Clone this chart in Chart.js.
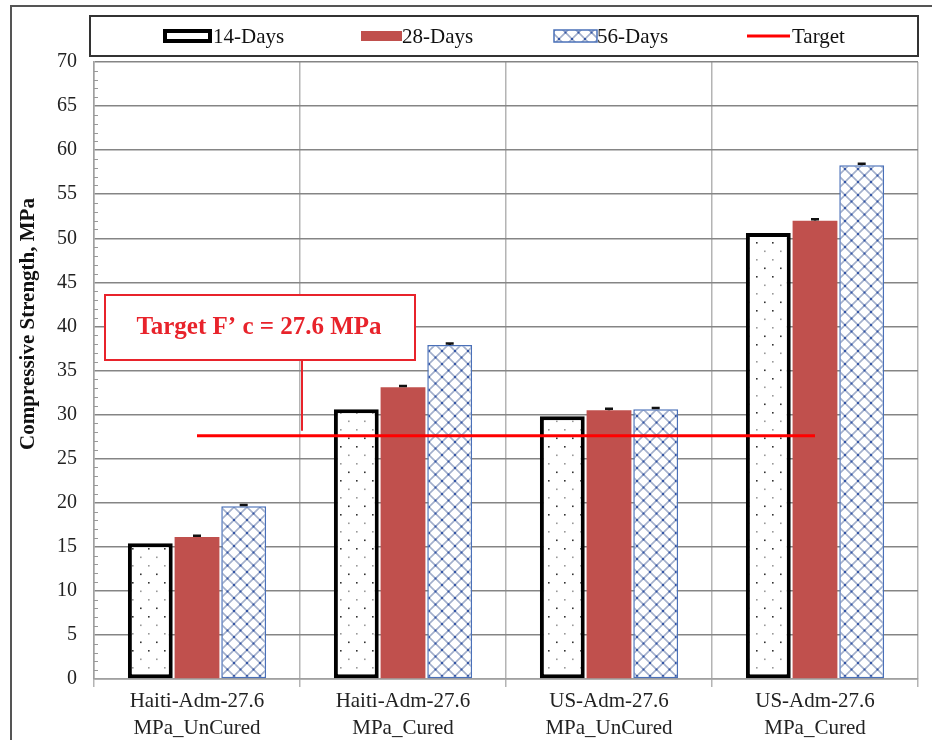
<!DOCTYPE html>
<html>
<head>
<meta charset="utf-8">
<title>Compressive Strength</title>
<script src="https://cdn.jsdelivr.net/npm/chart.js@4.4.1/dist/chart.umd.min.js"></script>
<style>
  html, body { margin: 0; padding: 0; background: #fff; }
  #wrap { width: 932px; height: 740px; }
</style>
</head>
<body>
<div id="wrap"><canvas id="chart" width="932" height="740"></canvas></div>
<script>
// data
const categories = [
    ['Haiti-Adm-27.6', 'MPa_UnCured'],
    ['Haiti-Adm-27.6', 'MPa_Cured'],
    ['US-Adm-27.6', 'MPa_UnCured'],
    ['US-Adm-27.6', 'MPa_Cured']
];
const days14 = [15.4, 30.6, 29.8, 50.6];
const days28 = [16.1, 33.1, 30.5, 52.0];
const days56 = [19.6, 37.9, 30.6, 58.3];
const err28 = [0.15, 0.15, 0.15, 0.15];
const err56 = [0.15, 0.15, 0.15, 0.15];
const target = [27.6, 27.6, 27.6, 27.6];
const yTicks = [0, 5, 10, 15, 20, 25, 30, 35, 40, 45, 50, 55, 60, 65, 70];
const legendNames = ['14-Days', '28-Days', '56-Days', 'Target'];
const noteText = 'Target F\u2019 c = 27.6 MPa';
const yTitle = 'Compressive Strength, MPa';

const SERIF = '"Liberation Serif", "Times New Roman", serif';

// patterns for the 14 and 56 day bars
function dotPattern() {
    const c = document.createElement('canvas');
    c.width = 16; c.height = 34;
    const g = c.getContext('2d');
    g.fillStyle = '#fff';
    g.fillRect(0, 0, 16, 34);
    g.fillStyle = '#333'; g.fillRect(4, 4, 1.6, 1.6);
    g.fillStyle = '#999'; g.fillRect(12, 12.5, 1.6, 1.6);
    g.fillStyle = '#999'; g.fillRect(4, 21, 1.6, 1.6);
    g.fillStyle = '#333'; g.fillRect(12, 29.5, 1.6, 1.6);
    return g.createPattern(c, 'repeat');
}

function crossPattern() {
    const s = 13;
    const c = document.createElement('canvas');
    c.width = s; c.height = s;
    const g = c.getContext('2d');
    g.fillStyle = '#fff';
    g.fillRect(0, 0, s, s);
    g.strokeStyle = '#a3b0cc';
    g.lineWidth = 1.6;
    g.beginPath();
    g.moveTo(0, 0); g.lineTo(s, s);
    g.moveTo(s, 0); g.lineTo(0, s);
    g.stroke();
    g.fillStyle = '#3556a6';
    g.fillRect(s / 2 - 1, s / 2 - 1, 2, 2);
    g.fillRect(0, 0, 1, 1); g.fillRect(s - 1, 0, 1, 1);
    g.fillRect(0, s - 1, 1, 1); g.fillRect(s - 1, s - 1, 1, 1);
    return g.createPattern(c, 'repeat');
}

const dots = dotPattern();
const cross = crossPattern();

// frame, legend, note box, error caps, minor ticks
const decor = {
    id: 'decor',
    beforeDraw(chart) {
        const c = chart.ctx;
        c.save();
        c.fillStyle = '#fff';
        c.fillRect(0, 0, chart.width, chart.height);
        c.strokeStyle = '#555';
        c.lineWidth = 2;
        c.beginPath();
        c.moveTo(11, chart.height);
        c.lineTo(11, 6);
        c.lineTo(chart.width, 6);
        c.stroke();
        c.restore();
    },
    afterDatasetsDraw(chart) {
        const c = chart.ctx;
        const y = chart.scales.y;
        // error caps
        c.save();
        c.strokeStyle = '#111';
        c.lineWidth = 2.5;
        [[1, days28, err28], [2, days56, err56]].forEach(([idx, vals, errs]) => {
            chart.getDatasetMeta(idx).data.forEach((bar, i) => {
                const top = y.getPixelForValue(vals[i] + errs[i]);
                const base = y.getPixelForValue(vals[i]);
                c.beginPath();
                c.moveTo(bar.x, base);
                c.lineTo(bar.x, top);
                c.moveTo(bar.x - 4, top);
                c.lineTo(bar.x + 4, top);
                c.stroke();
            });
        });
        c.restore();
    },
    afterDraw(chart) {
        const c = chart.ctx;
        const area = chart.chartArea;
        const y = chart.scales.y;
        c.save();

        // minor ticks
        c.strokeStyle = '#999';
        c.lineWidth = 1;
        for (let v = 1; v < 70; v++) {
            if (v % 5 === 0) continue;
            const py = Math.round(y.getPixelForValue(v)) + 0.5;
            c.beginPath();
            c.moveTo(area.left, py);
            c.lineTo(area.left + 4, py);
            c.stroke();
        }

        // y title
        c.save();
        c.translate(29, 324);
        c.rotate(-Math.PI / 2);
        c.font = 'bold 21px ' + SERIF;
        c.fillStyle = '#111';
        c.textAlign = 'center';
        c.textBaseline = 'middle';
        c.fillText(yTitle, 0, 0);
        c.restore();

        // legend
        c.fillStyle = '#fff';
        c.fillRect(90, 16, 828, 40);
        c.strokeStyle = '#333';
        c.lineWidth = 2;
        c.strokeRect(90, 16, 828, 40);
        const ly = 36;
        // 14-Days
        c.fillStyle = '#000';
        c.fillRect(163, ly - 7, 49, 14);
        c.fillStyle = '#fff';
        c.fillRect(167, ly - 3, 41, 6);
        // 28-Days
        c.fillStyle = '#c0504d';
        c.fillRect(361, ly - 5, 41, 10);
        // 56-Days
        c.fillStyle = cross;
        c.fillRect(554, ly - 6, 43, 12);
        c.strokeStyle = '#4a70b8';
        c.lineWidth = 1.5;
        c.strokeRect(554, ly - 6, 43, 12);
        // Target
        c.strokeStyle = '#ff0000';
        c.lineWidth = 3;
        c.beginPath();
        c.moveTo(747, ly);
        c.lineTo(790, ly);
        c.stroke();
        c.font = '21px ' + SERIF;
        c.fillStyle = '#111';
        c.textAlign = 'left';
        c.textBaseline = 'middle';
        [213, 402, 597, 792].forEach((x, i) => c.fillText(legendNames[i], x, ly + 1));

        // note box
        const lineY = y.getPixelForValue(target[0]);
        c.strokeStyle = '#e8232b';
        c.lineWidth = 2;
        c.beginPath();
        c.moveTo(302, 360);
        c.lineTo(302, lineY - 5);
        c.stroke();
        c.fillStyle = '#fff';
        c.fillRect(105, 295, 310, 65);
        c.strokeRect(105, 295, 310, 65);
        c.font = 'bold 25px ' + SERIF;
        c.fillStyle = '#e8232b';
        c.textAlign = 'center';
        c.fillText(noteText, 259, 328);

        c.restore();
    }
};

const ctx = document.getElementById('chart').getContext('2d');
const myChart = new Chart(ctx, {
    type: 'bar',
    data: {
        labels: categories,
        datasets: [{
            label: legendNames[0],
            data: days14,
            backgroundColor: dots,
            borderColor: '#000',
            borderWidth: 4,
            borderSkipped: false,
            order: 1
        }, {
            label: legendNames[1],
            data: days28,
            backgroundColor: '#c0504d',
            borderWidth: 0,
            order: 1
        }, {
            label: legendNames[2],
            data: days56,
            backgroundColor: cross,
            borderColor: '#4a70b8',
            borderWidth: 1.5,
            borderSkipped: false,
            order: 1
        }, {
            type: 'line',
            label: legendNames[3],
            data: target,
            borderColor: '#ff0000',
            borderWidth: 3,
            pointRadius: 0,
            fill: false,
            order: 0
        }]
    },
    options: {
        responsive: false,
        animation: false,
        layout: { padding: { top: 62, right: 14, left: 0, bottom: 0 } },
        datasets: { bar: { categoryPercentage: 0.68, barPercentage: 0.96 } },
        plugins: {
            legend: { display: false },
            tooltip: { enabled: false }
        },
        scales: {
            x: {
                grid: { color: '#b4b4b4', lineWidth: 1.5, offset: true, tickLength: 8 },
                border: { color: '#a0a0a0', width: 1.5 },
                ticks: {
                    font: { family: SERIF, size: 21, lineHeight: 1.3 },
                    color: '#222',
                    padding: 1,
                    maxRotation: 0,
                    autoSkip: false
                },
                afterFit: s => { s.height = 61; }
            },
            y: {
                min: 0,
                max: 70,
                afterBuildTicks: s => { s.ticks = yTicks.map(v => ({ value: v })); },
                grid: { color: '#858585', lineWidth: 1.5, drawTicks: false },
                border: { color: '#a0a0a0', width: 1.5 },
                ticks: {
                    font: { family: SERIF, size: 20 },
                    color: '#222',
                    padding: 17
                },
                afterFit: s => { s.width = 94; }
            }
        }
    },
    plugins: [decor]
});
</script>
</body>
</html>
